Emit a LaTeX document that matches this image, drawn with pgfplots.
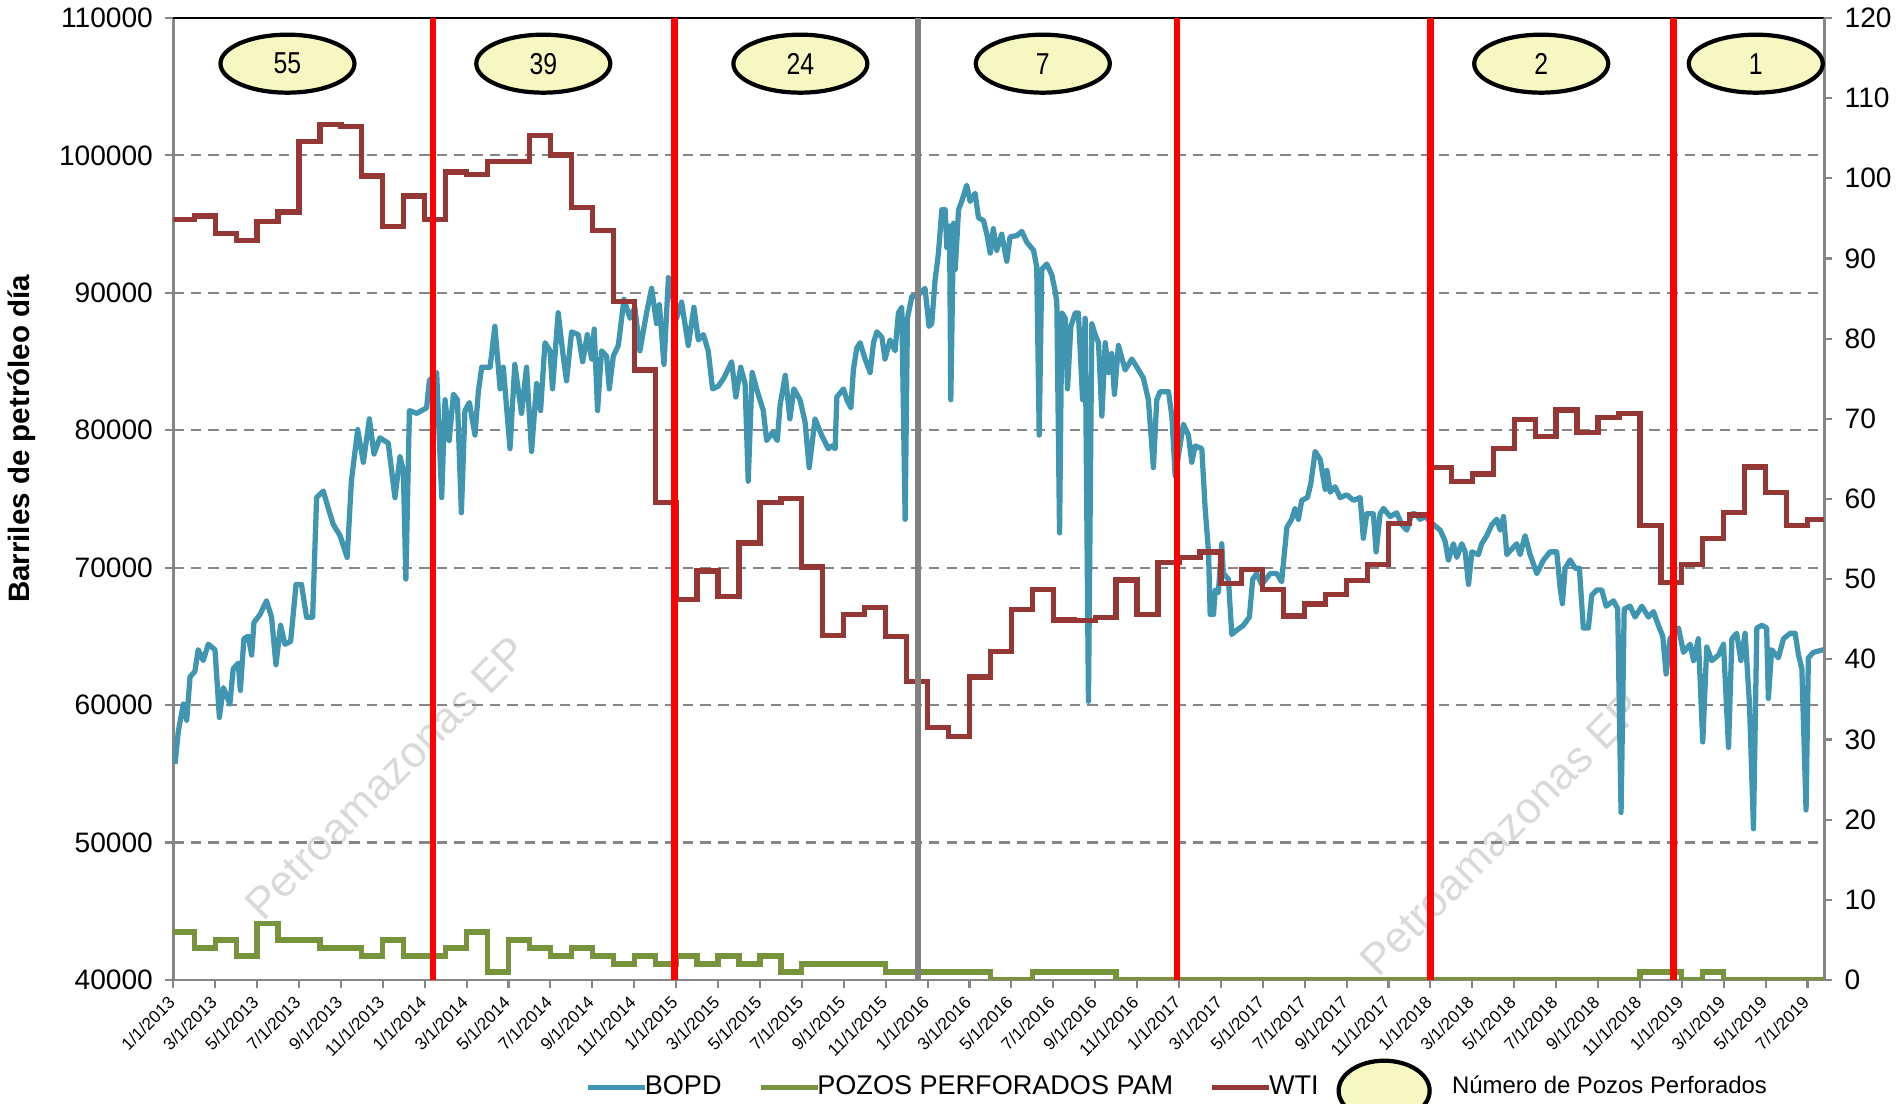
\documentclass[border=0pt]{standalone}
\usepackage{fontspec}
\setmainfont{Liberation Sans}
\usepackage{pgfplots}
\pgfplotsset{compat=1.18}
\usepackage{pgfplotstable}
\usetikzlibrary{shapes.geometric}

\definecolor{bopd}{RGB}{64,150,176}
\definecolor{wti}{RGB}{149,55,53}
\definecolor{pozos}{RGB}{119,147,60}
\definecolor{axisgray}{RGB}{134,134,134}
\definecolor{ellfill}{RGB}{247,247,193}

% month index (0 = 1/1/2013), WTI (USD/bbl), wells drilled
\pgfplotstableread{
m wti pozos
0 94.9 6
1 95.3 4
2 93.1 5
3 92.2 3
4 94.6 7
5 95.8 5
6 104.6 5
7 106.7 4
8 106.5 4
9 100.3 3
10 94.0 5
11 97.8 3
12 94.9 3
13 100.8 4
14 100.5 6
15 102.1 1
16 102.1 5
17 105.3 4
18 102.9 3
19 96.4 4
20 93.5 3
21 84.6 2
22 76.1 3
23 59.6 2
24 47.5 3
25 51.0 2
26 47.8 3
27 54.5 2
28 59.6 3
29 60.1 1
30 51.5 2
31 43.0 2
32 45.6 2
33 46.5 2
34 42.8 1
35 37.2 1
36 31.5 1
37 30.4 1
38 37.8 1
39 41.0 0
40 46.2 0
41 48.7 1
42 44.9 1
43 44.8 1
44 45.2 1
45 49.9 0
46 45.6 0
47 52.1 0
48 52.7 0
49 53.4 0
50 49.5 0
51 51.2 0
52 48.7 0
53 45.4 0
54 46.9 0
55 48.1 0
56 49.8 0
57 51.8 0
58 56.9 0
59 58.0 0
60 63.9 0
61 62.2 0
62 63.1 0
63 66.3 0
64 69.9 0
65 67.8 0
66 71.1 0
67 68.3 0
68 70.2 0
69 70.7 0
70 56.7 1
71 49.6 1
72 51.8 0
73 55.1 1
74 58.3 0
75 64.0 0
76 60.8 0
77 56.7 0
78 57.4 0
78.8 57.4 0
}\monthly

% daily oil production, barrels per day
\pgfplotstableread{
m bopd
0.08 55730
0.24 58100
0.48 60080
0.64 58900
0.8 62060
1.03 62450
1.19 64030
1.43 63240
1.67 64430
1.99 64030
2.2 59100
2.39 61270
2.7 60080
2.86 62650
3.1 63050
3.2 61070
3.37 64830
3.58 65020
3.74 63640
3.85 66010
4.14 66600
4.45 67590
4.69 66400
4.9 62930
5.12 65810
5.33 64430
5.6 64630
5.86 68780
6.12 68780
6.36 66400
6.65 66400
6.84 75100
7.16 75580
7.4 74310
7.64 73130
7.96 72330
8.3 70750
8.5 76290
8.8 80050
9.07 77670
9.36 80830
9.58 78270
9.86 79450
10.26 79060
10.58 75100
10.82 78070
10.98 77080
11.1 69170
11.27 81430
11.62 81230
12.09 81630
12.22 83600
12.57 84200
12.81 75100
12.97 82220
13.17 79250
13.37 82620
13.56 82220
13.75 74000
13.92 81430
14.13 82020
14.4 79650
14.56 82810
14.72 84590
15.12 84590
15.35 87560
15.6 83010
15.75 84590
16.07 78660
16.3 84790
16.62 81230
16.86 84590
17.1 78460
17.34 83400
17.53 81430
17.74 86370
17.98 85780
18.1 83010
18.37 88550
18.61 85390
18.77 83600
19.01 87160
19.33 86960
19.54 84990
19.76 86960
19.97 85180
20.09 87360
20.25 81430
20.44 85780
20.68 85390
20.81 83010
21.0 85390
21.24 86170
21.51 89530
21.8 88150
22.03 88940
22.27 85780
22.59 88550
22.83 90330
23.07 87760
23.2 89140
23.42 84790
23.63 91110
23.78 90120
24.02 88150
24.26 89330
24.58 86170
24.85 88940
25.06 86570
25.3 86960
25.53 85780
25.74 83010
26.01 83210
26.28 83800
26.65 84990
26.85 82420
27.08 84590
27.29 83400
27.44 76290
27.63 84200
27.84 83010
28.16 81430
28.32 79250
28.6 79850
28.83 79250
28.96 81820
29.21 84000
29.43 80830
29.62 83010
29.91 82220
30.15 80640
30.35 77280
30.63 80830
30.94 79650
31.26 78660
31.43 78860
31.59 78660
31.67 82420
31.99 83010
32.15 82220
32.34 81630
32.46 84390
32.62 85970
32.78 86370
33.02 85180
33.26 84200
33.42 86370
33.58 87160
33.82 86770
33.97 85180
34.21 86570
34.45 85780
34.61 88540
34.77 88940
34.93 73520
35.04 88150
35.25 89730
35.49 89730
35.88 90320
36.07 87560
36.2 87760
36.36 90920
36.52 92890
36.68 96050
36.84 96050
36.92 93290
37.05 94870
37.11 82220
37.24 95060
37.32 91700
37.48 96050
37.63 96650
37.87 97830
38.03 96650
38.27 97240
38.43 95460
38.67 95260
38.83 94270
38.99 92890
39.14 94670
39.3 93090
39.54 94270
39.78 92300
39.94 94080
40.26 94160
40.5 94470
40.74 93680
41.06 93090
41.21 91900
41.33 79650
41.45 91700
41.69 92100
41.93 91310
42.09 90120
42.17 89330
42.3 72530
42.41 88540
42.57 88150
42.68 83010
42.84 87560
43.05 88540
43.2 88540
43.4 82220
43.52 88150
43.68 60280
43.84 87750
44.0 86960
44.16 86370
44.32 81030
44.48 86370
44.64 84200
44.79 85580
44.92 82610
45.11 86170
45.43 84390
45.75 85180
45.99 84590
46.3 83800
46.54 82220
46.78 77280
46.94 82220
47.1 82810
47.5 82810
47.66 81030
47.82 76680
48.21 80440
48.45 79650
48.61 77670
48.77 78860
49.09 78660
49.25 74310
49.41 71150
49.49 66600
49.65 66600
49.73 68380
49.88 68190
50.04 71740
50.12 69570
50.36 69170
50.52 65140
50.73 65420
51.08 65810
51.36 66410
51.52 69170
51.71 69570
51.95 68780
52.35 69570
52.67 69570
52.9 68980
53.15 72930
53.38 73520
53.54 74310
53.7 73520
53.86 74900
54.13 75100
54.29 76090
54.5 78460
54.74 77870
54.98 75700
55.06 77080
55.22 75500
55.45 75890
55.69 75100
56.01 75300
56.33 74900
56.65 75100
56.8 72140
56.96 73920
57.28 73920
57.41 71150
57.6 73920
57.76 74310
58.08 73720
58.39 73990
58.64 73130
58.87 72730
59.11 73920
59.27 73920
59.51 73520
59.75 73720
60.15 73130
60.47 72730
60.7 71940
60.86 70560
61.1 71740
61.26 70750
61.5 71740
61.66 71150
61.82 68780
61.98 71150
62.29 70950
62.45 71740
62.69 72330
62.93 73130
63.17 73520
63.33 72730
63.49 73720
63.65 70950
63.88 71350
64.12 71740
64.28 70950
64.52 72330
64.76 70950
65.08 69570
65.4 70560
65.71 71150
66.03 71150
66.19 68580
66.3 67390
66.43 69960
66.67 70560
66.91 69960
67.11 69960
67.3 65610
67.54 65610
67.7 67990
67.94 68380
68.18 68380
68.39 67200
68.74 67590
68.94 67000
69.1 52180
69.25 67000
69.53 67200
69.77 66410
70.09 67200
70.41 66410
70.65 66800
70.88 65810
71.09 65020
71.25 62260
71.44 64830
71.84 65610
72.08 63840
72.4 64430
72.56 63240
72.79 64830
73.0 57320
73.19 64230
73.43 63240
73.75 63640
73.99 64430
74.23 56920
74.39 64830
74.62 65220
74.82 63240
75.02 65220
75.23 60080
75.42 51000
75.58 65610
75.82 65810
76.05 65610
76.13 60480
76.29 64030
76.61 63440
76.85 64830
77.17 65220
77.41 65220
77.57 63640
77.73 62650
77.93 52370
78.04 63440
78.28 63840
78.76 64030
}\bopd

% wells drilled per period (labels in the ellipses), right-axis units
\pgfplotstableread{
m y n
5.45 114.3 55
17.66 114.3 39
29.93 114.3 24
41.5 114.3 7
65.29 114.3 2
75.53 114.3 1
}\wells

\begin{document}
\begin{tikzpicture}
% watermarks
\node[rotate=45, text=black!15, font=\fontsize{12.5}{14}\selectfont] at (2.13,2.02) {Petroamazonas EP};
\node[rotate=45, text=black!15, font=\fontsize{12.5}{14}\selectfont] at (13.28,1.46) {Petroamazonas EP};

\begin{axis}[
  width=16.51cm, height=9.62cm, scale only axis,
  xmin=0, xmax=78.8,
  ymin=40000, ymax=110000,
  ytick distance=10000,
  scaled y ticks=false,
  xtick={0,2,...,78},
  xticklabels={1/1/2013,3/1/2013,5/1/2013,7/1/2013,9/1/2013,11/1/2013,
    1/1/2014,3/1/2014,5/1/2014,7/1/2014,9/1/2014,11/1/2014,
    1/1/2015,3/1/2015,5/1/2015,7/1/2015,9/1/2015,11/1/2015,
    1/1/2016,3/1/2016,5/1/2016,7/1/2016,9/1/2016,11/1/2016,
    1/1/2017,3/1/2017,5/1/2017,7/1/2017,9/1/2017,11/1/2017,
    1/1/2018,3/1/2018,5/1/2018,7/1/2018,9/1/2018,11/1/2018,
    1/1/2019,3/1/2019,5/1/2019,7/1/2019},
  xtick pos=lower, ytick pos=left,
  tick align=outside,
  major tick length=0.08cm,
  every tick/.style={axisgray, line width=0.6pt},
  axis line style={axisgray, line width=0.8pt},
  ymajorgrids=true,
  grid style={axisgray, dash pattern=on 3pt off 2pt, line width=0.6pt},
  xticklabel shift=0.1cm,
  xticklabel style={rotate=45, anchor=east, inner sep=0.5pt,
    font=\fontsize{4.9}{5.5}\selectfont},
  yticklabel style={font=\fontsize{8}{9.6}\selectfont},
  /pgf/number format/.cd, fixed, 1000 sep={}, assume math mode=true,
  /pgfplots/.cd,
  ylabel={Barriles de petróleo día},
  ylabel style={at={(axis description cs:-0.092,0.5625)}, anchor=center,
    font=\fontsize{8.4}{10}\selectfont\bfseries},
  after end axis/.code={\draw[black, line width=0.8pt] (rel axis cs:0,1) -- (rel axis cs:1,1);},
]
\addplot[bopd, line width=1.5pt, line join=round] table[x=m, y=bopd] {\bopd};
\end{axis}

\begin{axis}[
  width=16.51cm, height=9.62cm, scale only axis,
  xmin=0, xmax=78.8,
  ymin=0, ymax=120,
  ytick distance=10,
  axis y line*=right, axis x line=none,
  tick align=outside,
  major tick length=0.08cm,
  every tick/.style={axisgray, line width=0.6pt},
  axis line style={axisgray, line width=0.8pt},
  yticklabel style={font=\fontsize{8}{9.6}\selectfont},
  /pgf/number format/.cd, fixed, assume math mode=true,
  /pgfplots/.cd,
  legend columns=-1,
  legend style={at={(axis description cs:0.2493,-0.112)}, anchor=west,
    draw=none, fill=none, inner sep=0pt,
    nodes={inner xsep=1pt, inner ysep=1pt},
    font=\fontsize{7.7}{9}\selectfont,
    /tikz/every odd column/.append style={column sep=-0.065cm},
    /tikz/every even column/.append style={column sep=0.33cm}},
  legend image code/.code={\draw[#1] (0cm,0cm) -- (0.57cm,0cm);},
]
\addlegendimage{bopd, line width=1.5pt}
\addlegendentry{BOPD}
\addplot[pozos, line width=1.5pt, const plot] table[x=m, y=pozos] {\monthly};
\addlegendentry{POZOS PERFORADOS PAM}
\addplot[wti, line width=1.5pt, const plot] table[x=m, y=wti] {\monthly};
\addlegendentry{WTI}
\addlegendimage{legend image code/.code={
  \draw[overlay, black, line width=1.2pt, fill=ellfill] (0.29cm,-0.03cm) ellipse [x radius=0.455cm, y radius=0.3cm];
  \path[draw=none, fill=none] (0cm,-0.3cm) rectangle (1.0cm,0.3cm);}}
\addlegendentry{\fontsize{6.8}{8}\selectfont Número de Pozos Perforados}

% drilling campaign limits
\addplot[red, line width=1.9pt, forget plot] coordinates {(12.4,0) (12.4,120)};
\addplot[red, line width=1.9pt, forget plot] coordinates {(23.92,0) (23.92,120)};
\addplot[gray, line width=1.9pt, forget plot] coordinates {(35.55,0) (35.55,120)};
\addplot[red, line width=1.9pt, forget plot] coordinates {(47.9,0) (47.9,120)};
\addplot[red, line width=1.9pt, forget plot] coordinates {(60.02,0) (60.02,120)};
\addplot[red, line width=1.9pt, forget plot] coordinates {(71.6,0) (71.6,120)};

\addplot[only marks, mark=none, forget plot,
  point meta=explicit symbolic,
  nodes near coords={\scalebox{0.82}[1]{\pgfplotspointmeta}},
  every node near coord/.style={ellipse, draw=black, line width=1.2pt,
    fill=ellfill, minimum width=1.34cm, minimum height=0.58cm, inner sep=0pt,
    anchor=center, text=black, font=\fontsize{8.6}{10}\selectfont}]
  table[x=m, y=y, meta=n] {\wells};
\end{axis}
\pgfresetboundingbox
\path[use as bounding box] (-1.733,-1.24) rectangle (17.277,9.80);
\end{tikzpicture}
\end{document}
